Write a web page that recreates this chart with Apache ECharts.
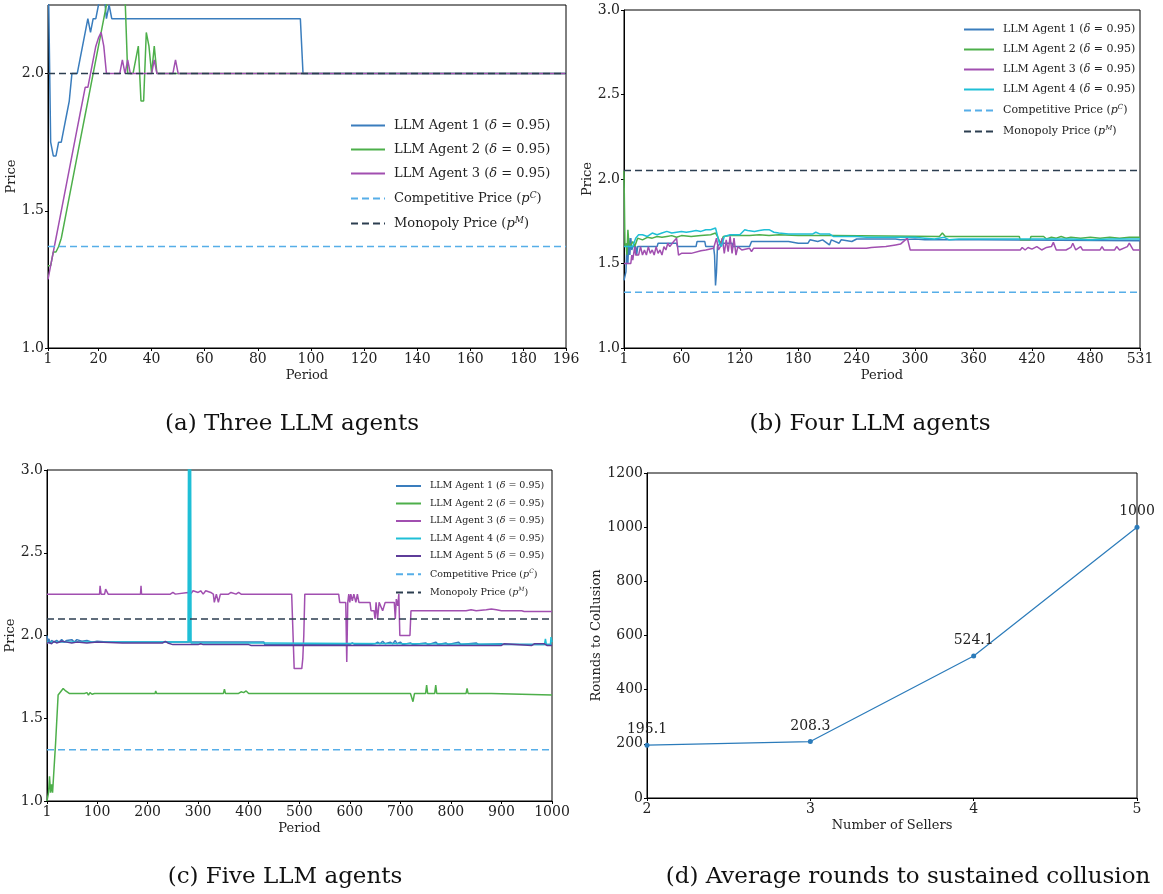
<!DOCTYPE html>
<html><head><meta charset="utf-8">
<script src="https://cdn.jsdelivr.net/npm/echarts@6/dist/echarts.min.js"></script>
<style>html,body{margin:0;padding:0;background:#fff}#c{width:1163px;height:894px}</style>
</head><body><div id="c"></div>
<script>
// ---------- Panel (a): three agents, [period, price] breakpoints ----------
const aAgent1 = [[1,2.45],[2,1.75],[3,1.70],[4,1.70],[5,1.75],[6,1.75],[7,1.80],[8,1.85],[9,1.90],[10,2.00],[12,2.00],[13,2.05],[14,2.10],[15,2.15],[16,2.20],[17,2.15],[18,2.20],[19,2.20],[20,2.25],[21,2.30],[22,2.30],[23,2.20],[24,2.25],[25,2.20],[96,2.20],[97,2.00],[196,2.00]];
const aAgent2 = [[1,1.30],[2,1.30],[3,1.35],[4,1.35],[5,1.37],[6,1.40],[7,1.45],[8,1.50],[9,1.55],[10,1.60],[11,1.65],[12,1.70],[13,1.75],[14,1.80],[15,1.85],[16,1.90],[17,1.95],[18,2.00],[19,2.05],[20,2.10],[21,2.15],[22,2.20],[23,2.25],[24,2.30],[29,2.35],[30,2.28],[31,2.00],[33,2.00],[34,2.05],[35,2.10],[36,1.90],[37,1.90],[38,2.15],[39,2.10],[40,2.00],[41,2.10],[42,2.00],[196,2.00]];
const aAgent3 = [[1,1.25],[2,1.30],[3,1.35],[4,1.40],[5,1.45],[6,1.50],[7,1.55],[8,1.60],[9,1.65],[10,1.70],[11,1.75],[12,1.80],[13,1.85],[14,1.90],[15,1.95],[16,1.95],[17,2.00],[18,2.05],[19,2.10],[20,2.13],[21,2.15],[22,2.10],[23,2.00],[28,2.00],[29,2.05],[30,2.00],[31,2.05],[32,2.00],[40,2.00],[41,2.05],[42,2.00],[48,2.00],[49,2.05],[50,2.00],[196,2.00]];
const aCompetitive = 1.37, aMonopoly = 2.0, aMaxPeriod = 196;
const aXTicks = [1,20,40,60,80,100,120,140,160,180,196];
const aYTicks = [1.0,1.5,2.0];

// ---------- Panel (b): four agents ----------
const bAgent1 = [[1,1.40],[2,1.40],[3,1.45],[4,1.62],[5,1.50],[6,1.65],[7,1.55],[8,1.65],[9,1.58],[10,1.60],[13,1.60],[14,1.55],[15,1.60],[35,1.60],[36,1.62],[55,1.62],[56,1.60],[75,1.60],[76,1.63],[84,1.63],[85,1.60],[93,1.60],[94,1.55],[95,1.37],[96,1.45],[97,1.60],[100,1.62],[112,1.62],[113,1.60],[130,1.60],[132,1.63],[150,1.63],[152,1.64],[160,1.63],[170,1.63],[172,1.64],[180,1.62],[182,1.63],[190,1.62],[192,1.64],[200,1.63],[205,1.64],[212,1.61],[214,1.64],[222,1.62],[224,1.64],[235,1.63],[240,1.645],[280,1.645],[285,1.64],[300,1.645],[310,1.64],[365,1.64],[367,1.635],[531,1.635]];
const bAgent2 = [[1,2.05],[2,1.60],[3,1.62],[4,1.55],[5,1.70],[6,1.62],[7,1.60],[10,1.63],[12,1.60],[15,1.65],[20,1.64],[25,1.655],[30,1.65],[35,1.66],[40,1.655],[45,1.66],[50,1.665],[55,1.655],[60,1.665],[70,1.66],[80,1.665],[90,1.67],[95,1.68],[97,1.66],[100,1.62],[103,1.66],[110,1.665],[130,1.665],[140,1.67],[150,1.665],[160,1.67],[180,1.665],[215,1.665],[216,1.66],[325,1.66],[328,1.68],[331,1.66],[407,1.66],[408,1.64],[418,1.64],[419,1.66],[432,1.66],[435,1.645],[440,1.655],[445,1.65],[450,1.66],[455,1.65],[460,1.655],[470,1.65],[480,1.655],[490,1.65],[500,1.655],[510,1.65],[520,1.655],[531,1.655]];
const bAgent3 = [[1,1.50],[8,1.50],[9,1.55],[10,1.52],[12,1.60],[13,1.55],[16,1.55],[18,1.60],[20,1.55],[22,1.58],[24,1.55],[26,1.60],[28,1.56],[30,1.58],[32,1.55],[34,1.60],[36,1.56],[38,1.58],[40,1.55],[42,1.60],[44,1.58],[46,1.62],[48,1.60],[52,1.63],[55,1.65],[57,1.55],[60,1.56],[70,1.56],[72,1.57],[80,1.575],[85,1.58],[93,1.59],[96,1.65],[98,1.58],[100,1.60],[102,1.65],[104,1.56],[106,1.64],[108,1.57],[110,1.66],[112,1.56],[114,1.65],[116,1.55],[118,1.60],[122,1.58],[130,1.59],[132,1.57],[134,1.59],[160,1.59],[162,1.60],[164,1.59],[185,1.59],[187,1.60],[190,1.59],[250,1.59],[255,1.595],[270,1.60],[280,1.61],[285,1.615],[292,1.65],[295,1.58],[375,1.58],[376,1.585],[378,1.58],[408,1.58],[410,1.595],[413,1.58],[416,1.595],[420,1.585],[425,1.60],[430,1.58],[435,1.595],[440,1.60],[442,1.625],[445,1.58],[455,1.58],[460,1.595],[462,1.62],[465,1.58],[470,1.60],[472,1.58],[490,1.58],[492,1.60],[494,1.58],[505,1.58],[507,1.60],[510,1.58],[518,1.60],[520,1.62],[524,1.58],[531,1.58]];
const bAgent4 = [[1,1.60],[10,1.60],[13,1.65],[16,1.67],[20,1.67],[25,1.66],[30,1.68],[35,1.67],[40,1.68],[45,1.69],[50,1.68],[55,1.685],[60,1.69],[65,1.685],[70,1.69],[75,1.695],[80,1.69],[85,1.70],[90,1.70],[95,1.71],[97,1.70],[99,1.62],[101,1.60],[104,1.66],[110,1.67],[120,1.67],[125,1.70],[128,1.695],[135,1.69],[140,1.695],[145,1.70],[150,1.70],[155,1.685],[160,1.68],[170,1.675],[195,1.675],[198,1.685],[202,1.675],[212,1.675],[216,1.66],[240,1.66],[250,1.655],[300,1.655],[310,1.65],[320,1.645],[330,1.655],[335,1.64],[345,1.645],[440,1.645],[442,1.64],[460,1.645],[480,1.64],[500,1.645],[531,1.645]];
const bCompetitive = 1.33, bMonopoly = 2.05, bMaxPeriod = 531;
const bXTicks = [1,60,120,180,240,300,360,420,480,531];

// ---------- Panel (c): five agents ----------
const cAgent1 = [[1,2.00],[3,1.96],[5,1.98],[7,1.95],[10,1.97],[15,1.96],[20,1.97],[25,1.96],[30,1.975],[35,1.96],[40,1.97],[50,1.975],[55,1.96],[60,1.975],[70,1.965],[80,1.97],[90,1.96],[100,1.965],[120,1.96],[430,1.96],[432,1.945],[600,1.945],[605,1.955],[610,1.945],[640,1.945],[642,1.955],[650,1.95],[655,1.96],[660,1.95],[665,1.965],[670,1.95],[680,1.96],[685,1.95],[690,1.97],[693,1.95],[700,1.96],[705,1.945],[720,1.955],[725,1.945],[750,1.955],[755,1.945],[770,1.96],[775,1.945],[790,1.955],[795,1.945],[815,1.96],[820,1.945],[850,1.955],[855,1.945],[900,1.95],[905,1.945],[1000,1.945]];
const cAgent2 = [[1,1.00],[4,1.05],[6,1.15],[8,1.05],[10,1.10],[12,1.05],[15,1.05],[18,1.35],[23,1.64],[28,1.66],[33,1.68],[38,1.665],[45,1.65],[75,1.65],[77,1.64],[80,1.655],[83,1.64],[86,1.655],[90,1.645],[95,1.65],[215,1.65],[216,1.665],[218,1.65],[350,1.65],[352,1.675],[354,1.65],[380,1.65],[385,1.66],[390,1.655],[395,1.665],[400,1.65],[720,1.65],[725,1.60],[728,1.65],[750,1.65],[752,1.70],[754,1.65],[768,1.65],[770,1.70],[772,1.65],[830,1.65],[832,1.68],[834,1.65],[880,1.65],[882,1.64],[1000,1.64]];
const cAgent3 = [[1,2.25],[105,2.25],[106,2.30],[108,2.25],[115,2.25],[117,2.28],[122,2.25],[186,2.25],[187,2.30],[188,2.25],[245,2.25],[250,2.26],[255,2.25],[280,2.26],[285,2.25],[290,2.27],[300,2.26],[305,2.27],[310,2.25],[315,2.27],[325,2.26],[328,2.27],[330,2.25],[332,2.20],[336,2.25],[340,2.20],[344,2.25],[360,2.25],[365,2.26],[375,2.25],[380,2.26],[385,2.25],[485,2.25],[488,2.24],[490,1.80],[505,1.80],[507,1.86],[509,2.00],[511,2.25],[578,2.25],[580,2.20],[592,2.20],[594,1.84],[596,2.20],[598,2.25],[600,2.20],[602,2.25],[605,2.21],[608,2.25],[612,2.20],[615,2.25],[618,2.20],[640,2.20],[642,2.15],[648,2.15],[650,2.10],[652,2.20],[655,2.10],[658,2.20],[665,2.15],[670,2.20],[688,2.20],[690,2.10],[692,2.22],[695,2.18],[697,2.25],[699,2.00],[719,2.00],[721,2.15],[780,2.15],[782,2.16],[790,2.15],[830,2.15],[840,2.155],[850,2.15],[870,2.155],[880,2.16],[890,2.155],[900,2.15],[940,2.15],[945,2.145],[1000,2.145]];
const cAgent4 = [[1,1.96],[280,1.96],[281,3.20],[282,1.96],[283,3.20],[284,1.96],[285,3.20],[286,1.955],[430,1.955],[432,1.945],[985,1.945],[987,1.98],[989,1.945],[997,1.945],[998,1.99],[1000,1.96]];
const cAgent5 = [[1,1.95],[5,1.96],[10,1.95],[15,1.965],[20,1.955],[30,1.965],[40,1.96],[50,1.955],[60,1.96],[80,1.955],[100,1.96],[150,1.955],[230,1.955],[235,1.965],[240,1.955],[250,1.945],[300,1.945],[305,1.95],[310,1.945],[400,1.945],[405,1.94],[900,1.94],[905,1.95],[908,1.94],[960,1.94],[965,1.95],[968,1.94],[985,1.95],[990,1.94],[1000,1.94]];
const cCompetitive = 1.31, cMonopoly = 2.10, cMaxPeriod = 1000;
const cXTicks = [1,100,200,300,400,500,600,700,800,900,1000];
const pYTicks = [1.0,1.5,2.0,2.5,3.0];

// ---------- Panel (d): rounds to collusion ----------
const dSellers = [2,3,4,5];
const dRounds = [195.1,208.3,524.1,1000];
const dYTicks = [0,200,400,600,800,1000,1200];

// ---------- styling ----------
const FONT = 'DejaVu Serif';
const C1 = '#3a7dbd', C2 = '#4daf4a', C3 = '#a14fb0', C4 = '#1fbfd6', C5 = '#5e3c99', CC = '#56aee8', CM = '#2c3e50';
const names = {
  a1:'LLM Agent 1 (δ = 0.95)', a2:'LLM Agent 2 (δ = 0.95)', a3:'LLM Agent 3 (δ = 0.95)',
  a4:'LLM Agent 4 (δ = 0.95)', a5:'LLM Agent 5 (δ = 0.95)',
  pc:'Competitive Price (p^C)', pm:'Monopoly Price (p^M)'
};

function line(name, data, color, g, width) {
  return {type:'line', name, data, xAxisIndex:g, yAxisIndex:g, symbol:'none', showSymbol:false,
    lineStyle:{color, width: width||1.5}, itemStyle:{color}, animation:false, clip:true, z:2};
}
function hline(name, v, maxP, color, g) {
  return {type:'line', name, data:[[1,v],[maxP,v]], xAxisIndex:g, yAxisIndex:g, symbol:'none',
    lineStyle:{color, width:1.5, type:[7,4]}, itemStyle:{color}, animation:false, z:3};
}
const tickLabel = {fontFamily:FONT, fontSize:14, color:'#222'};
function xAxis(g, min, max, ticks, name) {
  return {type:'value', gridIndex:g, min, max, name, nameLocation:'middle', nameGap:21,
    nameTextStyle:{fontFamily:FONT, fontSize:13, color:'#222'},
    axisLine:{show:true, onZero:false, lineStyle:{color:'#000', width:1}},
    axisTick:{show:true, length:3, customValues:ticks, lineStyle:{color:'#000'}},
    axisLabel:Object.assign({customValues:ticks, margin:4, formatter:v => String(v)}, tickLabel),
    splitLine:{show:false}};
}
function yAxis(g, min, max, ticks, name, fmt, gap) {
  return {type:'value', gridIndex:g, min, max, name, nameLocation:'middle', nameGap:gap||30,
    nameTextStyle:{fontFamily:FONT, fontSize:13, color:'#222'},
    axisLine:{show:true, onZero:false, lineStyle:{color:'#000', width:1}},
    axisTick:{show:true, length:3, customValues:ticks, lineStyle:{color:'#000'}},
    axisLabel:Object.assign({customValues:ticks, margin:4, formatter:fmt}, tickLabel),
    splitLine:{show:false}};
}
const f1 = v => Number(v).toFixed(1);
const f0 = v => String(Math.round(v));

function legend(left, top, size, gap, iw, list) {
  return {show:true, orient:'vertical', left, top, itemGap:gap, itemWidth:iw, itemHeight:size,
    data:list, selectedMode:false, padding:[2,4,2,2],
    itemStyle:{opacity:0, borderWidth:0},
    textStyle:{fontFamily:FONT, fontSize:size, color:'#222', padding:[0,0,0,4],
      rich:{it:{fontFamily:FONT, fontSize:size, fontStyle:'italic', color:'#222'},
            sup:{fontFamily:FONT, fontSize:Math.round(size*0.68), fontStyle:'italic', color:'#222', verticalAlign:'top', lineHeight:size+2}}},
    formatter: n => n.replace('δ','{it|δ}').replace(/\(p\^([CM])\)/, '({it|p}{sup|$1})')};
}

const grids = [
  {left:48, top:5, width:518, height:343},
  {left:624, top:10, width:516, height:338},
  {left:47, top:470, width:505, height:331},
  {left:647, top:473, width:490, height:325}
].map(g => Object.assign({show:true, borderColor:'#000', borderWidth:1, backgroundColor:'transparent'}, g));

const series = [
  line(names.a1, aAgent1, C1, 0), line(names.a2, aAgent2, C2, 0), line(names.a3, aAgent3, C3, 0),
  hline(names.pc, aCompetitive, aMaxPeriod, CC, 0), hline(names.pm, aMonopoly, aMaxPeriod, CM, 0),
  line(names.a1, bAgent1, C1, 1), line(names.a2, bAgent2, C2, 1), line(names.a3, bAgent3, C3, 1), line(names.a4, bAgent4, C4, 1),
  hline(names.pc, bCompetitive, bMaxPeriod, CC, 1), hline(names.pm, bMonopoly, bMaxPeriod, CM, 1),
  line(names.a1, cAgent1, C1, 2), line(names.a2, cAgent2, C2, 2), line(names.a3, cAgent3, C3, 2), line(names.a4, cAgent4, C4, 2), line(names.a5, cAgent5, C5, 2),
  hline(names.pc, cCompetitive, cMaxPeriod, CC, 2), hline(names.pm, cMonopoly, cMaxPeriod, CM, 2),
  {type:'line', name:'rounds', xAxisIndex:3, yAxisIndex:3, data:dSellers.map((s,i)=>[s,dRounds[i]]),
    symbol:'circle', symbolSize:5, lineStyle:{color:'#2b7bba', width:1.2}, itemStyle:{color:'#2b7bba'},
    label:{show:true, position:'top', distance:6, fontFamily:FONT, fontSize:14, color:'#222', formatter:p => String(p.value[1])},
    animation:false, clip:false}
];

const titleStyle = {font:'23px "DejaVu Serif"', fill:'#111', textAlign:'center', textVerticalAlign:'middle'};
const option = {
  backgroundColor:'#fff',
  animation:false,
  grid: grids,
  xAxis: [
    xAxis(0, 1, aMaxPeriod, aXTicks, 'Period'),
    xAxis(1, 1, bMaxPeriod, bXTicks, 'Period'),
    xAxis(2, 1, cMaxPeriod, cXTicks, 'Period'),
    Object.assign(xAxis(3, 2, 5, dSellers, 'Number of Sellers'), {interval:1})
  ],
  yAxis: [
    yAxis(0, 1.0, 2.25, aYTicks, 'Price', f1),
    yAxis(1, 1.0, 3.0, pYTicks, 'Price', f1),
    yAxis(2, 1.0, 3.0, pYTicks, 'Price', f1),
    Object.assign(yAxis(3, 0, 1200, dYTicks, 'Rounds to Collusion', f0, 34), {interval:200})
  ],
  legend: [
    legend(348, 117, 13, 11, 34, [names.a1, names.a2, names.a3, names.pc, names.pm]),
    legend(961, 22, 11, 9, 30, [names.a1, names.a2, names.a3, names.a4, names.pc, names.pm]),
    legend(393, 479, 9.5, 7.5, 25, [names.a1, names.a2, names.a3, names.a4, names.a5, names.pc, names.pm])
  ],
  graphic: [
    {type:'text', x:292, y:424, style:Object.assign({text:'(a) Three LLM agents'}, titleStyle)},
    {type:'text', x:870, y:424, style:Object.assign({text:'(b) Four LLM agents'}, titleStyle)},
    {type:'text', x:285, y:877, style:Object.assign({text:'(c) Five LLM agents'}, titleStyle)},
    {type:'text', x:908, y:877, style:Object.assign({text:'(d) Average rounds to sustained collusion'}, titleStyle)}
  ],
  series
};
const chart = echarts.init(document.getElementById('c'), null, {renderer:'canvas'});
chart.setOption(option);
</script></body></html>
